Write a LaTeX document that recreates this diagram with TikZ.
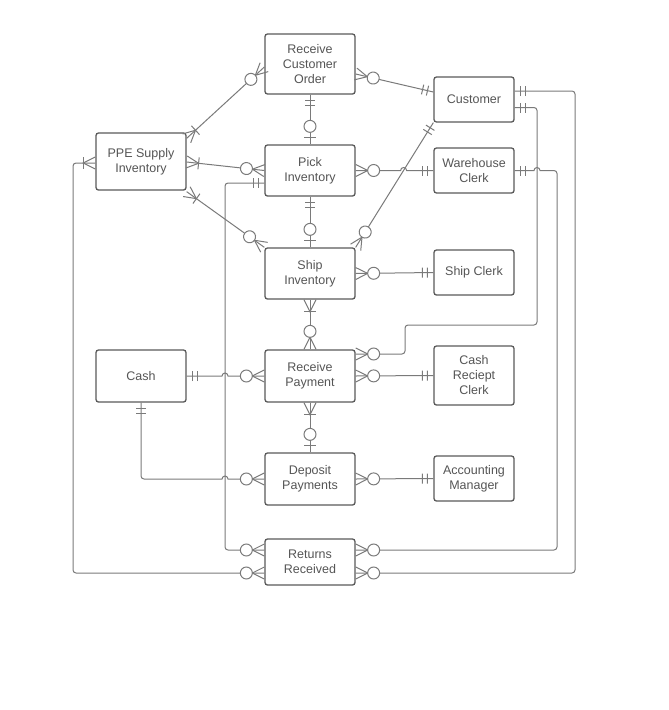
\documentclass[tikz,border=0pt]{standalone}
\usepackage{fontspec}
\setmainfont{Liberation Sans}
\usetikzlibrary{decorations.markings}
\definecolor{boxc}{HTML}{5A5A5A}
\definecolor{linec}{HTML}{7A7A7A}
\definecolor{txtc}{HTML}{555555}
\newcommand\ZM{\draw[linec,line width=1pt,sharp corners] (0pt,6pt)--(12pt,0pt)--(0pt,-6pt); \draw[linec,line width=1pt,fill=white] (18pt,0pt) circle[radius=6pt];}
\newcommand\OM{\draw[linec,line width=1pt,sharp corners] (0pt,6pt)--(12pt,0pt)--(0pt,-6pt); \draw[linec,line width=1pt] (12pt,-6pt)--(12pt,6pt);}
\newcommand\OO{\draw[linec,line width=1pt] (6pt,-5pt)--(6pt,5pt); \draw[linec,line width=1pt] (11pt,-5pt)--(11pt,5pt);}
\newcommand\ZO{\draw[linec,line width=1pt] (7pt,-6pt)--(7pt,6pt); \draw[linec,line width=1pt,fill=white] (18pt,0pt) circle[radius=6pt];}
\begin{document}
\begin{tikzpicture}[x=1pt,y=1pt,
  box/.style={draw=boxc, line width=1.3pt, rounded corners=2.5pt, fill=white, text=txtc, align=center, font=\fontsize{12.5}{15}\selectfont, inner sep=0pt},
  wide/.style={box, minimum width=90pt},
  narrow/.style={box, minimum width=80pt},
  conn/.style={draw=linec, line width=1pt, rounded corners=3pt},
  s/.style={postaction={decorate,decoration={markings,mark=at position 0pt with {#1}}}},
  e/.style={postaction={decorate,decoration={markings,mark=at position 1 with {\begin{scope}[xscale=-1]#1\end{scope}}}}}]
\useasboundingbox (0,0) rectangle (669,-710);
\fill[white] (0,0) rectangle (669,-710);

% entities
\node[wide, minimum height=60pt] (rco) at (310,-64) {Receive\\Customer\\Order};
\node[narrow, minimum height=45pt] (cust) at (474,-99.5) {Customer};
\node[wide, minimum height=57pt] (ppe) at (141,-161.5) {PPE Supply\\Inventory};
\node[wide, minimum height=51pt] (pick) at (310,-170.5) {Pick\\Inventory};
\node[narrow, minimum height=45pt] (wc) at (474,-170.5) {Warehouse\\Clerk};
\node[wide, minimum height=51pt] (ship) at (310,-273.5) {Ship\\Inventory};
\node[narrow, minimum height=45pt] (sc) at (474,-272.5) {Ship Clerk};
\node[wide, minimum height=52pt] (cash) at (141,-376) {Cash};
\node[wide, minimum height=52pt] (rp) at (310,-376) {Receive\\Payment};
\node[narrow, minimum height=59pt] (crc) at (474,-375.5) {Cash\\Reciept\\Clerk};
\node[wide, minimum height=52pt] (dep) at (310,-479) {Deposit\\Payments};
\node[narrow, minimum height=45pt] (am) at (474,-478.5) {Accounting\\Manager};
\node[wide, minimum height=46pt] (ret) at (310,-562) {Returns\\Received};

% relationships
\draw[conn, s=\OM, e=\ZM] ([yshift=-6pt]ppe.north east) -- ([yshift=-3pt]rco.west);
\draw[conn, s=\ZM, e=\OO] ([yshift=-10pt]rco.east) -- ([yshift=7.5pt]cust.west);
\draw[conn, s=\OO, e=\ZO] (rco.south) -- (pick.north);
\draw[conn, s=\OM, e=\ZM] ([yshift=-0.5pt]ppe.east) -- (pick.west);
\draw[conn, s=\OM, e=\ZM] ([yshift=-1pt]ppe.south east) -- (ship.north west);
\draw[conn, sharp corners, s=\ZM, e=\OO] (pick.east) -- (400.6,-170.5) arc[start angle=180,end angle=0,radius=3pt] -- (wc.west);
\draw[conn, s=\ZM, e=\OO] (ship.north east) -- (cust.south west);
\draw[conn, s=\OO, e=\ZO] (pick.south) -- (ship.north);
\draw[conn, s=\ZM, e=\OO] (ship.east) -- (sc.west);
\draw[conn, s=\OM, e=\ZM] (ship.south) -- (rp.north);
\draw[conn, s=\OO, e=\ZM] ([yshift=-8pt]cust.east) -- (537,-107.5) -- (537,-325) -- (405,-325) -- (405,-354) -- ([yshift=22pt]rp.east);
\draw[conn, s=\ZM, e=\OO] (rp.east) -- (crc.west);
\draw[conn, sharp corners, s=\OO, e=\ZM] (cash.east) -- (222,-376) arc[start angle=180,end angle=0,radius=3pt] -- (rp.west);
\draw[conn, s=\OM, e=\ZO] (rp.south) -- (dep.north);
\draw[conn, s=\OO, e=\ZM] (cash.south) -- (141,-479) [sharp corners] -- (222,-479) arc[start angle=180,end angle=0,radius=3pt] -- (dep.west);
\draw[conn, s=\ZM, e=\OO] (dep.east) -- (am.west);
\draw[conn, s=\OO, e=\ZM] ([yshift=-12.5pt]pick.west) -- (225,-183) -- (225,-550) -- ([yshift=12pt]ret.west);
\draw[conn, s=\OM, e=\ZM] ([yshift=-1.5pt]ppe.west) -- (73,-163) -- (73,-573) -- ([yshift=-11pt]ret.west);
\draw[conn, sharp corners, s=\OO, e=\ZM] (wc.east) -- (534,-170.5) arc[start angle=180,end angle=0,radius=3pt] [rounded corners=3pt] -- (557,-170.5) -- (557,-550) -- ([yshift=12pt]ret.east);
\draw[conn, s=\OO, e=\ZM] ([yshift=8.5pt]cust.east) -- (575,-91) -- (575,-573) -- ([yshift=-11pt]ret.east);
\end{tikzpicture}
\end{document}
